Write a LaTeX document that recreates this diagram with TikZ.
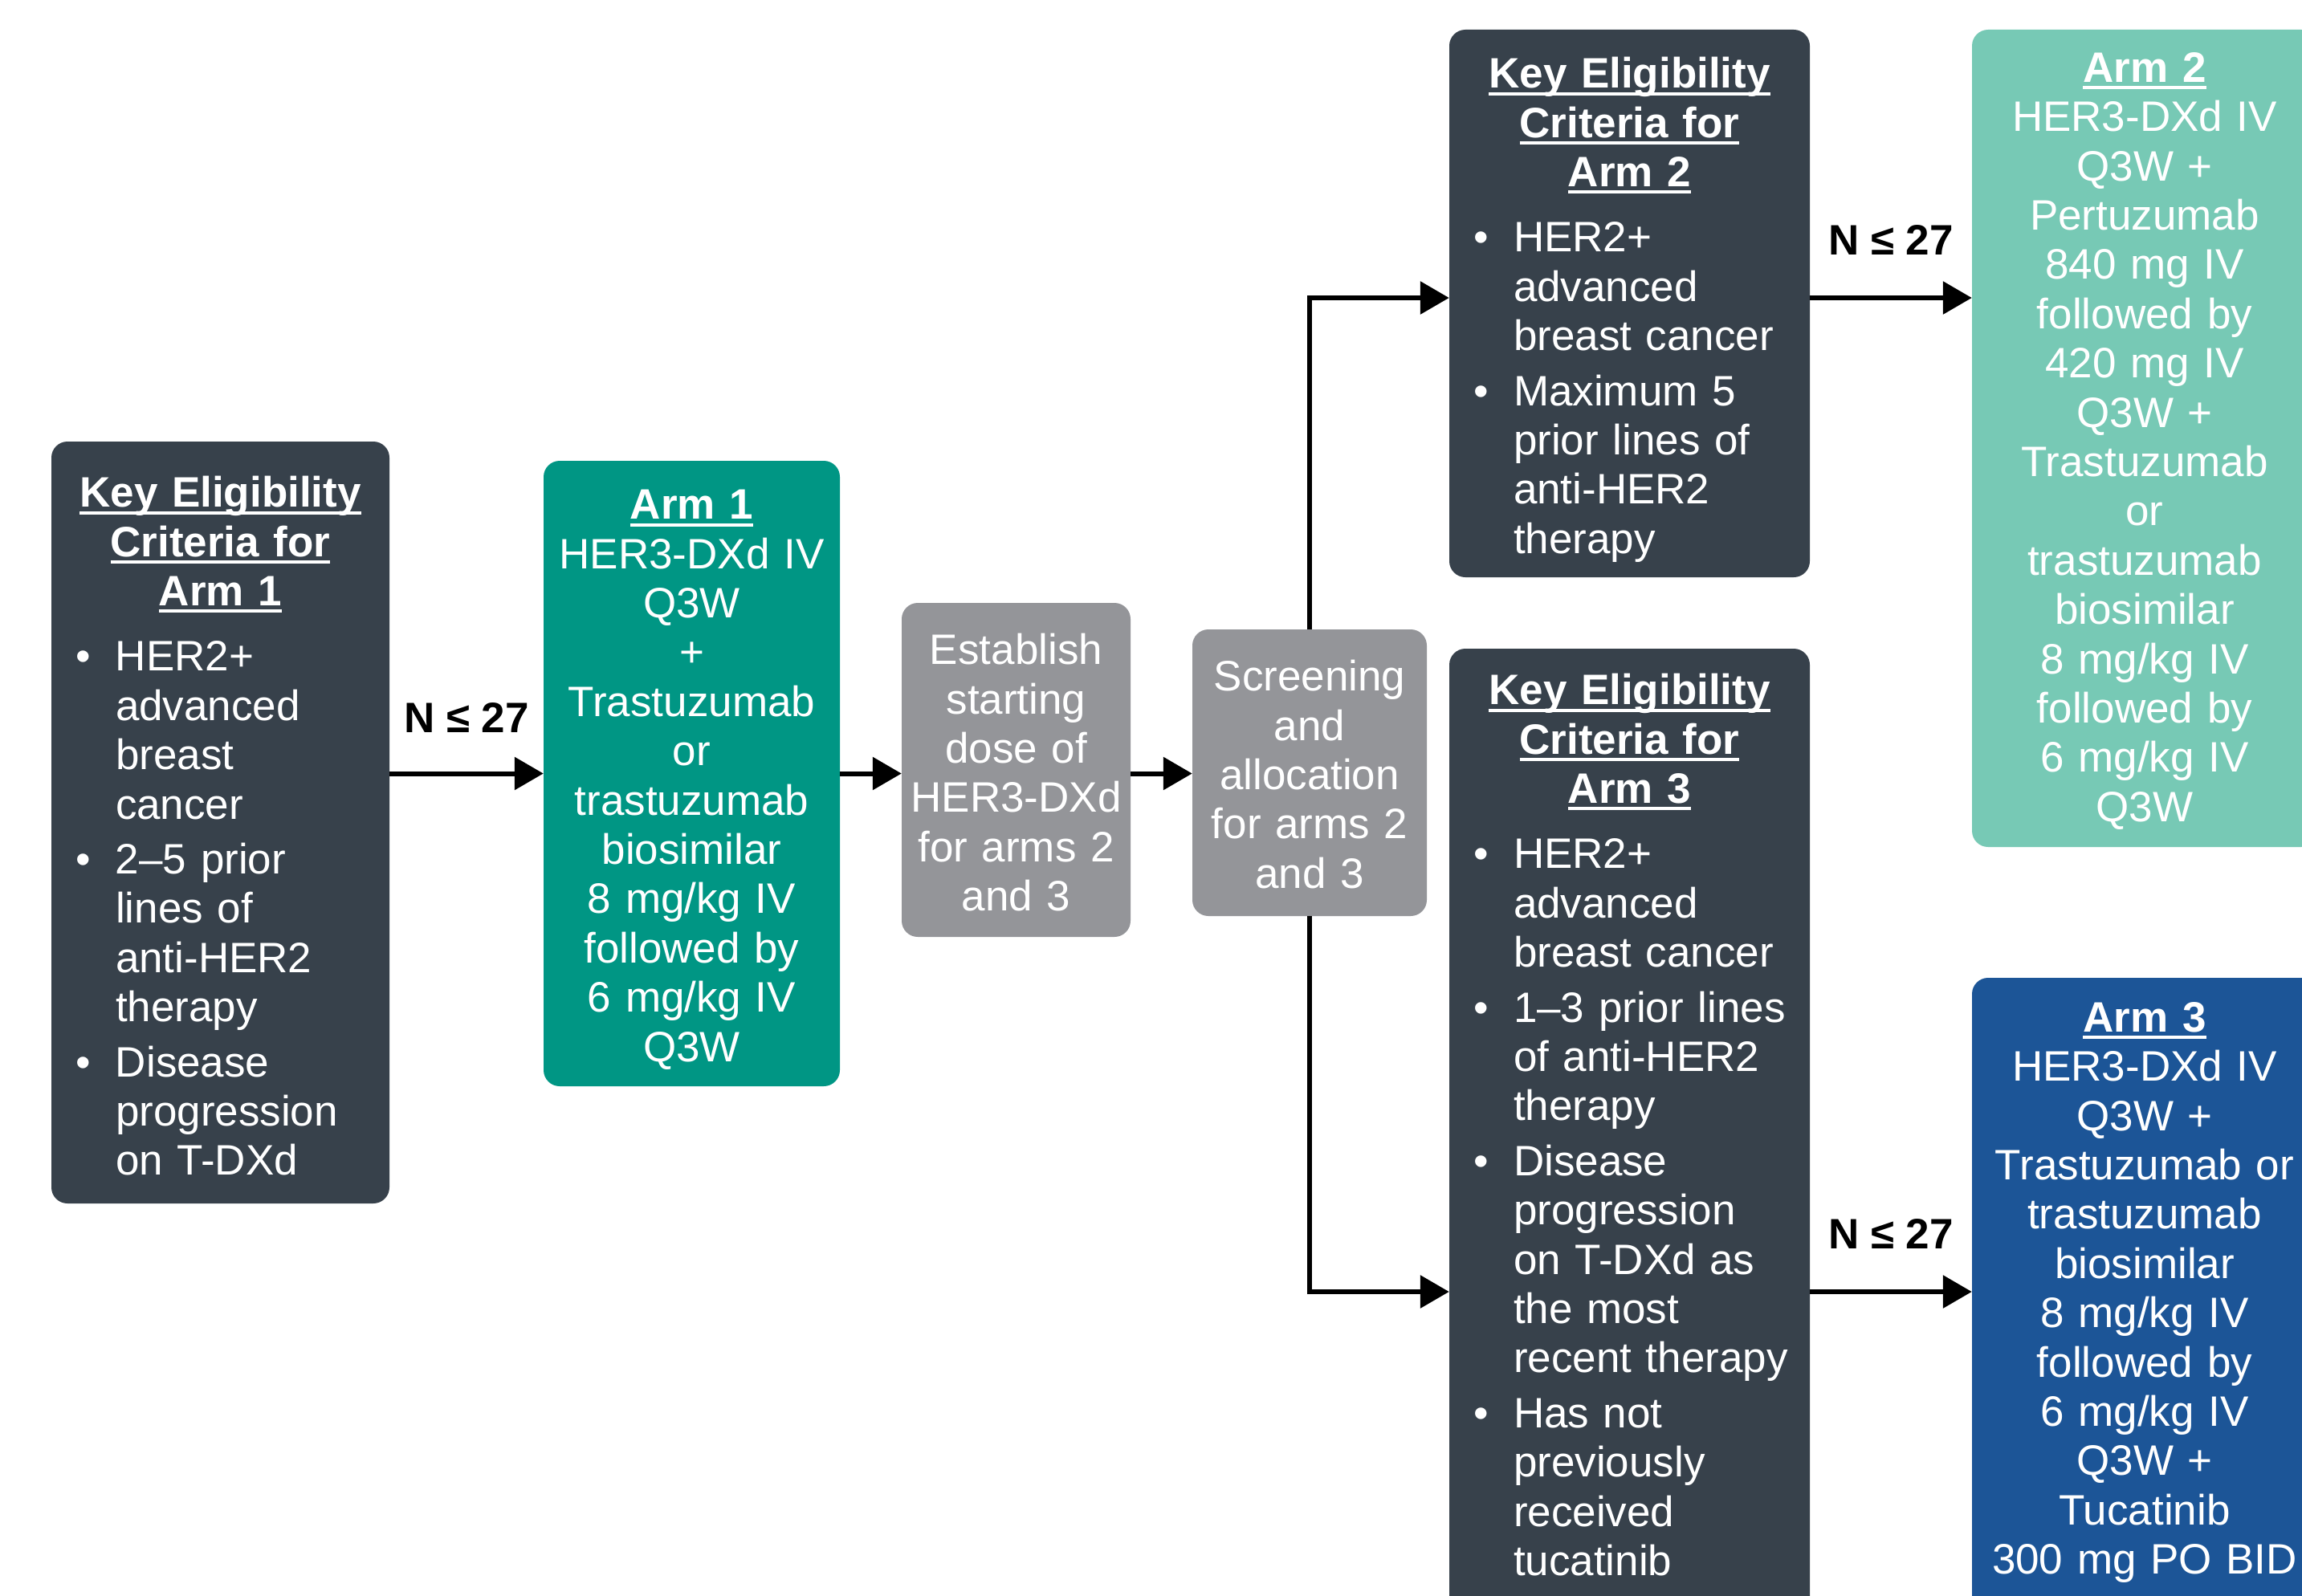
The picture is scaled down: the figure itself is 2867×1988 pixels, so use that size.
\documentclass[tikz,border=0pt]{standalone}
\usepackage{fontspec}
\setmainfont{Liberation Sans}
\usetikzlibrary{arrows.meta}
\definecolor{slate}{HTML}{37414B}
\definecolor{tealA}{HTML}{009684}
\definecolor{tealB}{HTML}{77C9B5}
\definecolor{navyA}{HTML}{1C5597}
\definecolor{grayA}{HTML}{949599}
\newcommand\ulx[1]{\leavevmode\setbox0=\hbox{#1}\rlap{\vrule height -5pt depth 9pt width \wd0}\box0}
\newcommand\nl{\hfil\break}
\newcommand\bitem[1]{\par\vspace{7pt}\hangindent=50pt\hangafter=1\noindent\hbox to 50pt{\textbullet\hfil}#1\par}
\newcommand\bulletsetup{\par\vspace{13pt}\raggedright\leftskip=30pt\relax}
\begin{document}
\begin{tikzpicture}[x=1pt,y=-1pt,
  box/.style={rounded corners=20pt, inner sep=0pt, draw=none},
  txt/.style={text=white, inner sep=0pt, anchor=north, font=\fontsize{53}{61.4}\selectfont},
  arr/.style={line width=6pt, -{Triangle[length=36pt,width=40pt]}},
  lab/.style={anchor=base, inner sep=0pt, font=\fontsize{53}{61.4}\selectfont\bfseries, text=black}]
\useasboundingbox (0,0) rectangle (2867,1988);
\fill[white] (0,0) rectangle (2867,1988);
% boxes
\node[box, fill=slate, minimum width=421pt, minimum height=949pt] (crit1) at (274.5,1024.5) {};
\node[box, fill=tealA, minimum width=369pt, minimum height=779pt] (arm1) at (861.5,963.5) {};
\node[box, fill=grayA, minimum width=285pt, minimum height=416pt] (est) at (1265.5,959) {};
\node[box, fill=grayA, minimum width=292pt, minimum height=357pt] (scr) at (1631,962.5) {};
\node[box, fill=slate, minimum width=449pt, minimum height=682pt] (crit2) at (2029.5,378) {};
\node[box, fill=tealB, minimum width=430pt, minimum height=1018pt] (arm2) at (2671,546) {};
\node[box, fill=slate, minimum width=449pt, minimum height=1222pt] (crit3) at (2029.5,1419) {};
\node[box, fill=navyA, minimum width=430pt, minimum height=812pt] (arm3) at (2671,1624) {};
% texts
\node[txt, text width=421pt] (t1) at (274.5,593) {\centering\ulx{\bfseries Key Eligibility}\\\ulx{\bfseries Criteria for}\\\ulx{\bfseries Arm 1}\par
 \bulletsetup
 \bitem{HER2+\nl advanced\nl breast\nl cancer}
 \bitem{2–5 prior\nl lines of\nl anti-HER2\nl therapy}
 \bitem{Disease\nl progression\nl on T-DXd}};
\node[txt, text width=369pt] (ta1) at (861.5,610) {\centering\ulx{\bfseries Arm 1}\\HER3-DXd IV\\Q3W\\+\\Trastuzumab\\or\\trastuzumab\\biosimilar\\8 mg/kg IV\\followed by\\6 mg/kg IV\\Q3W\par};
\node[txt, text width=285pt] (test) at (1265.5,789) {\centering Establish\\starting\\dose of\\HER3-DXd\\for arms 2\\and 3\par};
\node[txt, text width=292pt] (tscr) at (1631,822) {\centering Screening\\and\\allocation\\for arms 2\\and 3\par};
\node[txt, text width=449pt] (t2) at (2029.5,71) {\centering\ulx{\bfseries Key Eligibility}\\\ulx{\bfseries Criteria for}\\\ulx{\bfseries Arm 2}\par
 \bulletsetup
 \bitem{HER2+\nl advanced\nl breast cancer}
 \bitem{Maximum 5\nl prior lines of\nl anti-HER2\nl therapy}};
\node[txt, text width=430pt] (ta2) at (2671,65) {\centering\ulx{\bfseries Arm 2}\\HER3-DXd IV\\Q3W +\\Pertuzumab\\840 mg IV\\followed by\\420 mg IV\\Q3W +\\Trastuzumab\\or\\trastuzumab\\biosimilar\\8 mg/kg IV\\followed by\\6 mg/kg IV\\Q3W\par};
\node[txt, text width=449pt] (t3) at (2029.5,839) {\centering\ulx{\bfseries Key Eligibility}\\\ulx{\bfseries Criteria for}\\\ulx{\bfseries Arm 3}\par
 \bulletsetup
 \bitem{HER2+\nl advanced\nl breast cancer}
 \bitem{1–3 prior lines\nl of anti-HER2\nl therapy}
 \bitem{Disease\nl progression\nl on T-DXd as\nl the most\nl recent therapy}
 \bitem{Has not\nl previously\nl received\nl tucatinib}};
\node[txt, text width=430pt] (ta3) at (2671,1248) {\centering\ulx{\bfseries Arm 3}\\HER3-DXd IV\\Q3W +\\Trastuzumab or\\trastuzumab\\biosimilar\\8 mg/kg IV\\followed by\\6 mg/kg IV\\Q3W +\\Tucatinib\\300 mg PO BID\par};
% connectors
\coordinate (up) at (1631,371);
\coordinate (low) at (1631,1609);
\draw[arr] (crit1.east |- arm1.west) -- node[lab, yshift=51pt] (n1) {N ≤ 27} (arm1.west);
\draw[arr] (arm1.east) -- (est.west |- arm1.east);
\draw[arr] (est.east |- arm1.east) -- (scr.west |- arm1.east);
\draw[arr] (scr.north) |- (crit2.west |- up);
\draw[arr] (crit2.east |- up) -- node[lab, yshift=54pt] (n2) {N ≤ 27} (arm2.west |- up);
\draw[arr] (scr.south) |- (crit3.west |- low);
\draw[arr] (crit3.east |- low) -- node[lab, yshift=54pt] (n3) {N ≤ 27} (arm3.west |- low);
\end{tikzpicture}
\end{document}
